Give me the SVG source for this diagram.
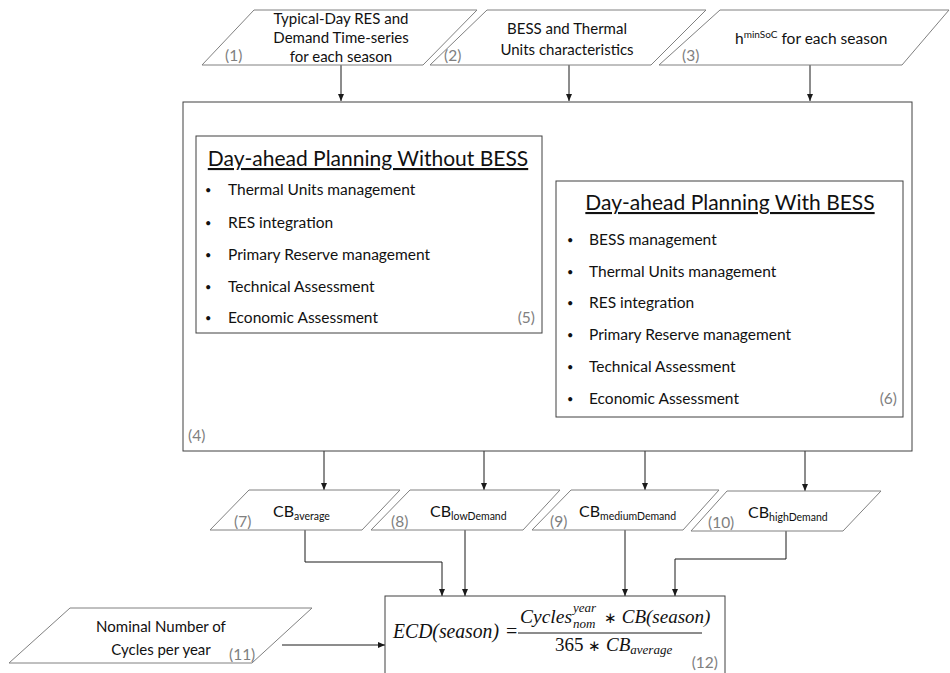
<svg xmlns="http://www.w3.org/2000/svg" width="950" height="673" viewBox="0 0 950 673">
<style>
.para{fill:#ffffff;stroke:#808080;stroke-width:1}
.box{fill:#ffffff;stroke:#404040;stroke-width:1}
.t{font-family:Lato,"Open Sans","Liberation Sans",sans-serif;fill:#111111}
.n{font-family:Lato,"Open Sans","Liberation Sans",sans-serif;fill:#808080;font-size:15.5px}
.b{font-size:15.5px}
.bul{font-size:11px}
.ttl{font-size:21px;text-decoration:underline}
.m{font-family:"Liberation Serif","Times New Roman",serif;font-style:italic;fill:#111111}
.c{stroke:#1a1a1a;stroke-width:1;fill:none}
</style>
<defs>
<marker id="ah" markerWidth="7" markerHeight="6" refX="7" refY="3" orient="auto" markerUnits="userSpaceOnUse">
<path d="M0,0 L7,3 L0,6 z" fill="#1a1a1a"/>
</marker>
</defs>
<rect width="950" height="673" fill="#ffffff"/>

<g id="connectors">
<line class="c" x1="341" y1="65" x2="341" y2="101" marker-end="url(#ah)"/>
<line class="c" x1="569" y1="65" x2="569" y2="101" marker-end="url(#ah)"/>
<line class="c" x1="810" y1="65" x2="810" y2="101" marker-end="url(#ah)"/>
<line class="c" x1="324" y1="451" x2="324" y2="490" marker-end="url(#ah)"/>
<line class="c" x1="484" y1="451" x2="484" y2="490" marker-end="url(#ah)"/>
<line class="c" x1="645" y1="451" x2="645" y2="490" marker-end="url(#ah)"/>
<line class="c" x1="805" y1="451" x2="805" y2="491" marker-end="url(#ah)"/>
<polyline class="c" points="305,530 305,562 442,562 442,596" marker-end="url(#ah)"/>
<line class="c" x1="465" y1="530" x2="465" y2="596" marker-end="url(#ah)"/>
<line class="c" x1="625" y1="530" x2="625" y2="596" marker-end="url(#ah)"/>
<polyline class="c" points="786,531 786,559 675,559 675,596" marker-end="url(#ah)"/>
<line class="c" x1="282" y1="645" x2="385" y2="645" marker-end="url(#ah)"/>
</g>

<g id="n1">
<polygon class="para" points="254,10 477,10 423,65 202,65"/>
<text class="t" font-size="15" text-anchor="middle"><tspan x="341" y="24">Typical-Day RES and</tspan><tspan x="341" y="43">Demand Time-series</tspan><tspan x="341" y="62">for each season</tspan></text>
<text class="n" x="225" y="61">(1)</text>
</g>

<g id="n2">
<polygon class="para" points="487,10 706,10 651,65 430,65"/>
<text class="t" font-size="15" text-anchor="middle"><tspan x="567" y="34">BESS and Thermal</tspan><tspan x="567" y="55">Units characteristics</tspan></text>
<text class="n" x="444" y="61">(2)</text>
</g>

<g id="n3">
<polygon class="para" points="720,10 949,10 902,65 659,65"/>
<text class="t" x="735" y="44" font-size="15.5">h<tspan font-size="10" dy="-6">minSoC</tspan><tspan dy="6"> for each season</tspan></text>
<text class="n" x="682" y="61">(3)</text>
</g>

<g id="n4">
<rect class="box" x="183" y="102" width="729" height="349"/>
<text class="n" x="188" y="441">(4)</text>
</g>

<g id="n5">
<rect class="box" x="196" y="136" width="346" height="197" stroke="#595959"/>
<text class="t ttl" x="368" y="166" text-anchor="middle">Day-ahead Planning Without BESS</text>
<g class="t b">
<text class="bul" x="205" y="194">•</text><text x="228" y="195">Thermal Units management</text>
<text class="bul" x="205" y="227">•</text><text x="228" y="228">RES integration</text>
<text class="bul" x="205" y="259">•</text><text x="228" y="260">Primary Reserve management</text>
<text class="bul" x="205" y="291">•</text><text x="228" y="292">Technical Assessment</text>
<text class="bul" x="205" y="322">•</text><text x="228" y="323">Economic Assessment</text>
</g>
<text class="n" x="535" y="323" text-anchor="end">(5)</text>
</g>

<g id="n6">
<rect class="box" x="556" y="181" width="347" height="236" stroke="#595959"/>
<text class="t ttl" x="730" y="210" text-anchor="middle">Day-ahead Planning With BESS</text>
<g class="t b">
<text class="bul" x="567" y="244">•</text><text x="589" y="245">BESS management</text>
<text class="bul" x="567" y="276">•</text><text x="589" y="277">Thermal Units management</text>
<text class="bul" x="567" y="307">•</text><text x="589" y="308">RES integration</text>
<text class="bul" x="567" y="339">•</text><text x="589" y="340">Primary Reserve management</text>
<text class="bul" x="567" y="371">•</text><text x="589" y="372">Technical Assessment</text>
<text class="bul" x="567" y="403">•</text><text x="589" y="404">Economic Assessment</text>
</g>
<text class="n" x="897" y="404" text-anchor="end">(6)</text>
</g>

<g id="n7">
<polygon class="para" points="249,490 400,490 362,530 210,530"/>
<text class="t" x="273" y="517" font-size="16">CB<tspan font-size="10.5" dy="3">average</tspan></text>
<text class="n" x="234" y="527">(7)</text>
</g>

<g id="n8">
<polygon class="para" points="410,490 560,490 523,530 371,530"/>
<text class="t" x="430" y="517" font-size="16">CB<tspan font-size="10.5" dy="3">lowDemand</tspan></text>
<text class="n" x="391" y="527">(8)</text>
</g>

<g id="n9">
<polygon class="para" points="571,490 719,490 683,530 532,530"/>
<text class="t" x="579" y="517" font-size="16">CB<tspan font-size="10.5" dy="3">mediumDemand</tspan></text>
<text class="n" x="550" y="527">(9)</text>
</g>

<g id="n10">
<polygon class="para" points="727,491 881,491 843,531 691,531"/>
<text class="t" x="748" y="518" font-size="16">CB<tspan font-size="10.5" dy="3">highDemand</tspan></text>
<text class="n" x="708" y="528">(10)</text>
</g>

<g id="n11">
<polygon class="para" points="70,608 312,608 252,663 9,663"/>
<text class="t" font-size="15" text-anchor="middle"><tspan x="161" y="632">Nominal Number of</tspan><tspan x="161" y="655">Cycles per year</tspan></text>
<text class="n" x="229" y="660">(11)</text>
</g>

<g id="n12">
<rect class="box" x="385" y="596" width="340" height="90"/>
<text class="m" x="393" y="638" font-size="20" textLength="106" lengthAdjust="spacingAndGlyphs">ECD(season)</text>
<text x="506" y="638" font-family="'Liberation Serif',serif" font-size="20" fill="#111111">=</text>
<text class="m" x="520" y="623" font-size="19" textLength="52" lengthAdjust="spacingAndGlyphs">Cycles</text>
<text class="m" x="573" y="612" font-size="13">year</text>
<text class="m" x="573" y="628" font-size="13">nom</text>
<text class="m" x="604" y="623" font-size="19"><tspan font-style="normal" font-size="15">∗</tspan> CB(season)</text>
<line x1="518" y1="633" x2="702" y2="633" stroke="#1a1a1a" stroke-width="1"/>
<text class="m" x="555" y="651" font-size="19"><tspan font-style="normal">365 </tspan><tspan font-style="normal" font-size="15">∗</tspan> CB<tspan font-size="13" dy="3">average</tspan></text>
<text class="n" x="718" y="668" text-anchor="end">(12)</text>
</g>
</svg>
